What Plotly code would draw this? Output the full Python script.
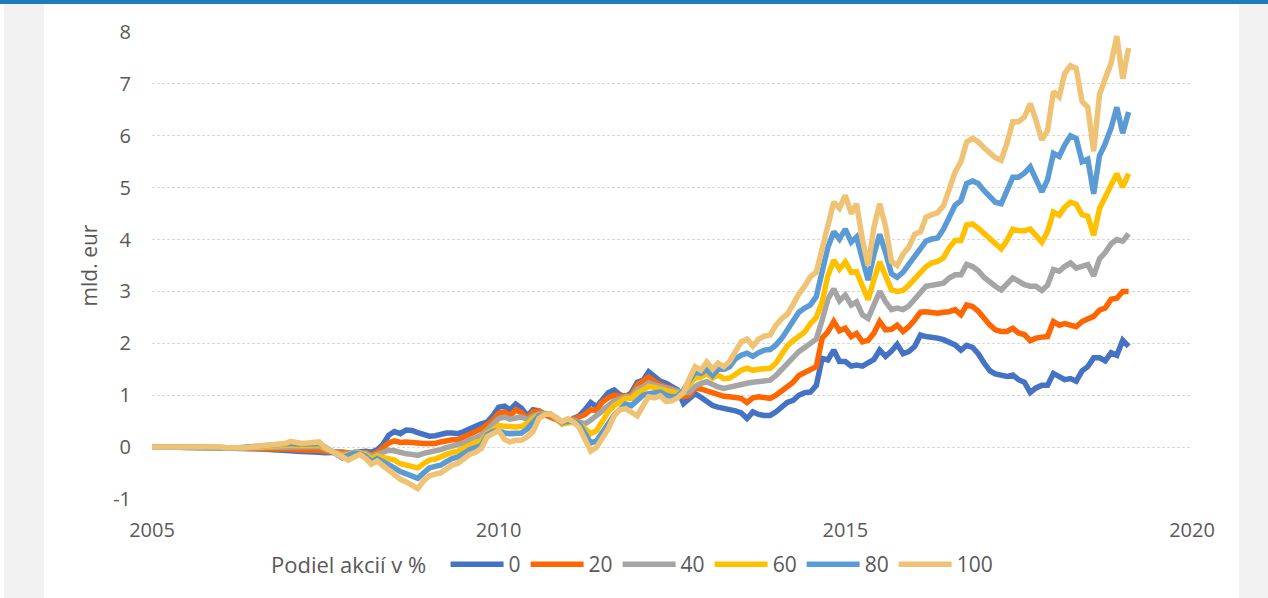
import pandas as pd
import plotly.graph_objects as go

months = pd.date_range("2005-01-01", periods=170, freq="MS")

series_names = ["0", "20", "40", "60", "80", "100"]
series_colors = ["#4472C4", "#FF6600", "#A5A5A5", "#FFC000", "#5B9BD5", "#F0C274"]

s0 = [
    0, 0, 0, -0.01, 0, 0, 0.01, 0, -0.01, -0.01, 0, 0,
    -0.01, -0.01, -0.02, -0.02, -0.02, -0.03, -0.03, -0.03, -0.04, -0.05, -0.05, -0.06,
    -0.07, -0.08, -0.08, -0.1, -0.09, -0.1, -0.11, -0.1, -0.11, -0.1, -0.12, -0.1,
    -0.1, -0.08, -0.1, -0.05, 0.05, 0.23, 0.3, 0.26, 0.33, 0.32, 0.28, 0.25,
    0.21, 0.22, 0.25, 0.27, 0.27, 0.26, 0.3, 0.34, 0.4, 0.45, 0.48, 0.6,
    0.77, 0.79, 0.72, 0.83, 0.75, 0.6, 0.72, 0.7, 0.63, 0.6, 0.56, 0.48,
    0.47, 0.56, 0.6, 0.72, 0.86, 0.78, 0.93, 1.05, 1.1, 1.01, 0.97, 1.05,
    1.25, 1.29, 1.45, 1.34, 1.27, 1.23, 1.18, 1.1, 0.84, 0.93, 1.03, 0.96,
    0.87, 0.8, 0.77, 0.75, 0.73, 0.7, 0.66, 0.55, 0.68, 0.63, 0.61, 0.61,
    0.68, 0.78, 0.86, 0.9, 1.0, 1.05, 1.06, 1.19, 1.71, 1.68, 1.87, 1.65,
    1.65, 1.56, 1.58, 1.56, 1.64, 1.69, 1.87, 1.75, 1.85, 1.98, 1.8, 1.84,
    1.94, 2.16, 2.13, 2.12, 2.1, 2.07, 2.01, 1.97, 1.87, 1.96, 1.92, 1.8,
    1.62, 1.47, 1.41, 1.39, 1.36, 1.39, 1.3, 1.25, 1.05, 1.14, 1.19, 1.19,
    1.42, 1.36, 1.3, 1.32, 1.27, 1.47, 1.55, 1.72, 1.72, 1.66, 1.82, 1.77,
    2.06, 1.94,
]

s20 = [
    0, 0, 0, 0, 0.01, 0.01, 0.01, 0, 0, 0, 0, 0,
    -0.01, -0.01, -0.02, -0.02, -0.02, -0.02, -0.02, -0.02, -0.02, -0.03, -0.03, -0.03,
    -0.04, -0.05, -0.05, -0.06, -0.05, -0.06, -0.08, -0.08, -0.1, -0.1, -0.11, -0.1,
    -0.11, -0.11, -0.15, -0.1, -0.02, 0.08, 0.12, 0.09, 0.1, 0.1, 0.08, 0.07,
    0.06, 0.07, 0.1, 0.13, 0.14, 0.14, 0.19, 0.24, 0.3, 0.35, 0.43, 0.52,
    0.65, 0.68, 0.6, 0.72, 0.66, 0.56, 0.68, 0.7, 0.62, 0.58, 0.53, 0.47,
    0.5, 0.55, 0.58, 0.63, 0.72, 0.71, 0.87, 0.95, 1.0, 0.98, 0.98, 1.0,
    1.2, 1.28, 1.35, 1.27, 1.2, 1.16, 1.13, 1.07, 0.97, 1.0, 1.14, 1.12,
    1.08, 1.05, 1.0, 0.98, 0.97, 0.96, 0.94, 0.86, 0.95, 0.97, 0.96, 0.94,
    1.0, 1.08, 1.15, 1.25, 1.38, 1.43, 1.48, 1.55, 2.1, 2.22, 2.42, 2.24,
    2.29, 2.13, 2.19, 2.03, 2.06, 2.2, 2.42, 2.26, 2.27, 2.35, 2.23, 2.32,
    2.45, 2.6, 2.61, 2.6, 2.58, 2.6, 2.61, 2.65, 2.55, 2.74, 2.71, 2.62,
    2.48, 2.35, 2.26, 2.23, 2.23, 2.29, 2.2, 2.17, 2.05, 2.1, 2.12, 2.13,
    2.42, 2.35, 2.38, 2.35, 2.32, 2.42, 2.48, 2.52, 2.64, 2.68, 2.85, 2.87,
    3.0, 3.0,
]

s40 = [
    0, 0, 0, 0, 0, 0.01, 0.01, 0, 0, 0, 0, 0,
    0, -0.01, -0.02, -0.01, -0.01, -0.01, -0.01, -0.01, 0, 0, 0, 0.01,
    0.01, 0, 0, 0, 0, 0.01, -0.04, -0.07, -0.1, -0.14, -0.12, -0.1,
    -0.11, -0.12, -0.18, -0.13, -0.1, -0.06, -0.07, -0.11, -0.13, -0.14, -0.16, -0.12,
    -0.1, -0.08, -0.05, -0.01, 0.02, 0.03, 0.08, 0.13, 0.19, 0.23, 0.33, 0.43,
    0.55, 0.58, 0.54, 0.56, 0.58, 0.53, 0.6, 0.64, 0.65, 0.64, 0.55, 0.47,
    0.5, 0.52, 0.48, 0.45, 0.52, 0.6, 0.7, 0.8, 0.89, 0.93, 0.97, 0.97,
    1.12, 1.16, 1.24, 1.2, 1.17, 1.16, 1.12, 1.08, 1.04, 1.06, 1.17, 1.23,
    1.26, 1.2, 1.16, 1.13, 1.16, 1.18, 1.2, 1.23, 1.25, 1.27, 1.29, 1.29,
    1.38, 1.5, 1.62, 1.72, 1.84, 1.92, 2.0, 2.08, 2.45, 2.85, 3.05, 2.82,
    2.93, 2.74, 2.8, 2.55, 2.48, 2.74, 3.0, 2.8, 2.65, 2.68, 2.65, 2.72,
    2.85, 3.0, 3.1, 3.12, 3.14, 3.16, 3.26, 3.32, 3.32, 3.52, 3.48, 3.4,
    3.27, 3.17, 3.1, 3.03, 3.13, 3.26, 3.2, 3.13, 3.1, 3.1, 3.02, 3.12,
    3.42, 3.39, 3.48, 3.55, 3.45, 3.48, 3.52, 3.3, 3.63, 3.75, 3.92, 4.0,
    3.97, 4.11,
]

s60 = [
    0, 0, 0, 0, 0.01, 0.01, 0.01, 0, 0.01, 0.01, 0.01, 0.01,
    0, -0.01, -0.02, -0.01, -0.01, -0.01, 0, 0, 0.01, 0.02, 0.02, 0.03,
    0.04, 0.03, 0.02, 0.03, 0.03, 0.04, -0.02, -0.07, -0.12, -0.18, -0.14, -0.11,
    -0.12, -0.15, -0.23, -0.17, -0.2, -0.22, -0.25, -0.32, -0.35, -0.36, -0.4, -0.32,
    -0.25, -0.23, -0.2, -0.14, -0.1, -0.08, -0.02, 0.04, 0.09, 0.12, 0.27, 0.33,
    0.42, 0.4, 0.39, 0.39, 0.4, 0.45, 0.55, 0.62, 0.65, 0.64, 0.55, 0.44,
    0.47, 0.48, 0.45, 0.34, 0.26, 0.32, 0.5, 0.68, 0.8, 0.86, 0.94, 0.94,
    1.04, 1.1, 1.17, 1.15, 1.12, 1.1, 1.06, 1.03, 1.08, 1.2, 1.33, 1.35,
    1.42, 1.33, 1.39, 1.32, 1.33, 1.4, 1.48, 1.52, 1.48, 1.5, 1.52, 1.52,
    1.62, 1.8, 1.95, 2.05, 2.15, 2.22, 2.38, 2.5, 2.8, 3.3, 3.6, 3.43,
    3.57, 3.37, 3.38, 3.1, 2.84, 3.23, 3.57, 3.3, 3.03, 3.0, 3.02, 3.12,
    3.25, 3.38, 3.48, 3.55, 3.58, 3.65, 3.84, 3.98, 3.98, 4.28, 4.3, 4.22,
    4.12, 4.0, 3.9, 3.82, 3.98, 4.2, 4.17, 4.17, 4.2, 4.08, 3.95, 4.15,
    4.53, 4.47, 4.62, 4.72, 4.68, 4.48, 4.45, 4.08, 4.6, 4.82, 5.05, 5.27,
    5.01, 5.27,
]

s80 = [
    0, 0, 0, 0, 0.01, 0.01, 0.01, 0.01, 0.01, 0.01, 0.01, 0.01,
    0, -0.01, -0.02, -0.01, -0.01, 0, 0, 0.01, 0.02, 0.03, 0.04, 0.05,
    0.07, 0.06, 0.05, 0.06, 0.06, 0.07, 0, -0.07, -0.14, -0.21, -0.16, -0.12,
    -0.13, -0.18, -0.28, -0.22, -0.28, -0.33, -0.4, -0.47, -0.52, -0.55, -0.6, -0.5,
    -0.4, -0.37, -0.35, -0.28, -0.22, -0.19, -0.12, -0.05, -0.01, 0.03, 0.24, 0.3,
    0.32, 0.27, 0.26, 0.26, 0.27, 0.35, 0.48, 0.6, 0.64, 0.63, 0.56, 0.47,
    0.5, 0.5, 0.45, 0.24, 0.08, 0.12, 0.3, 0.45, 0.62, 0.74, 0.83, 0.8,
    0.9, 1.0, 1.03, 1.04, 1.06, 1.0, 0.97, 0.98, 1.1, 1.28, 1.45, 1.42,
    1.5, 1.38, 1.5, 1.5, 1.55, 1.7, 1.77, 1.81, 1.75, 1.82, 1.87, 1.88,
    1.97, 2.1, 2.25, 2.45, 2.6, 2.68, 2.74, 2.9, 3.35, 3.85, 4.15, 4.01,
    4.2, 3.95, 4.05, 3.59, 3.22, 3.72, 4.1, 3.75, 3.34, 3.27, 3.37, 3.52,
    3.68, 3.85, 3.97, 4.01, 4.03, 4.2, 4.4, 4.66, 4.75, 5.08, 5.13, 5.08,
    4.94, 4.81, 4.72, 4.69, 4.95, 5.2, 5.2, 5.28, 5.4, 5.15, 4.92, 5.15,
    5.66, 5.6, 5.82, 6.0, 5.95, 5.5, 5.55, 4.88, 5.62, 5.85, 6.15, 6.55,
    6.05, 6.46,
]

s100 = [
    0, 0, 0.01, 0, 0.01, 0.02, 0.02, 0.01, 0.02, 0.02, 0.02, 0.01,
    0, -0.01, -0.02, -0.01, -0.01, 0, 0.01, 0.02, 0.03, 0.04, 0.06, 0.07,
    0.11, 0.09, 0.07, 0.08, 0.08, 0.1, -0.01, -0.08, -0.12, -0.19, -0.25, -0.2,
    -0.14, -0.22, -0.33, -0.27, -0.36, -0.45, -0.54, -0.62, -0.67, -0.72, -0.8, -0.65,
    -0.55, -0.52, -0.5, -0.42, -0.35, -0.31, -0.22, -0.14, -0.1, -0.03, 0.2, 0.26,
    0.32, 0.15, 0.1, 0.13, 0.13, 0.2, 0.3, 0.55, 0.63, 0.64, 0.55, 0.49,
    0.55, 0.48, 0.38, 0.12, -0.08, 0.0, 0.18, 0.35, 0.6, 0.72, 0.74, 0.66,
    0.6, 0.8, 0.97, 0.95, 0.99, 0.88, 0.89, 0.95, 1.05, 1.32, 1.55, 1.48,
    1.64, 1.5, 1.62, 1.55, 1.65, 1.84, 2.03, 2.08, 1.95, 2.08, 2.14, 2.16,
    2.35, 2.48, 2.56, 2.75, 2.95, 3.1, 3.28, 3.37, 3.85, 4.35, 4.72, 4.6,
    4.85, 4.5, 4.69, 4.0, 3.5, 4.24, 4.69, 4.25, 3.58, 3.5, 3.72, 3.85,
    4.1, 4.15, 4.43, 4.48, 4.52, 4.65, 5.0, 5.3, 5.5, 5.88, 5.95, 5.88,
    5.77, 5.66, 5.58, 5.53, 5.85, 6.27, 6.27, 6.36, 6.62, 6.3, 5.92, 6.1,
    6.85, 6.75, 7.2, 7.35, 7.3, 6.66, 6.55, 5.7, 6.8, 7.1, 7.4, 7.92,
    7.1, 7.69,
]

x_tick_years = ["2005", "2010", "2015", "2020"]
y_ticks = [-1, 0, 1, 2, 3, 4, 5, 6, 7, 8]
y_tick_text = ["-1", "0", "1", "2", "3", "4", "5", "6", "7", "8"]
legend_title = "Podiel akcií v %"
y_title = "mld. eur"

all_series = [s0, s20, s40, s60, s80, s100]

W, H = 1268, 598
ML, MR, MT, MB = 152, 76, 32, 99
PW, PH = W - ML - MR, H - MT - MB


def px_x(px):
    return (px - ML) / PW


def px_y(py):
    return (H - MB - py) / PH


fig = go.Figure()
for name, color, vals in zip(series_names, series_colors, all_series):
    fig.add_trace(go.Scatter(
        x=months, y=vals, name=name, mode="lines",
        line=dict(color=color, width=5.5),
        hoverinfo="skip",
    ))

font_family = "Open Sans, Liberation Sans, sans-serif"
text_color = "#595959"

fig.update_layout(
    width=W, height=H,
    margin=dict(l=ML, r=MR, t=MT, b=MB, pad=0),
    paper_bgcolor="#F2F2F2",
    plot_bgcolor="white",
    font=dict(family=font_family, size=20, color=text_color),
    showlegend=True,
    legend=dict(
        orientation="h",
        x=px_x(269), xanchor="left",
        y=px_y(544), yanchor="top",
        bgcolor="rgba(0,0,0,0)",
        font=dict(size=21, color=text_color),
        title=dict(text=legend_title + "\u00a0\u00a0",
                   font=dict(size=22, color=text_color), side="left"),
        itemwidth=53,
        tracegroupgap=0,
    ),
    xaxis=dict(
        type="date",
        range=["2005-01-01", "2020-01-01"],
        tickvals=[pd.Timestamp(y + "-01-01") for y in x_tick_years],
        ticktext=x_tick_years,
        showgrid=False, zeroline=False, showline=False,
        ticks="", ticklabelstandoff=17,
        tickfont=dict(size=20, color=text_color),
    ),
    yaxis=dict(
        range=[-1, 8],
        tickvals=y_ticks,
        ticktext=y_tick_text,
        showgrid=True, gridcolor="#D9D9D9", gridwidth=1, griddash="3px,2px",
        zeroline=False, showline=False,
        ticks="", ticklabelstandoff=20,
        tickfont=dict(size=20, color=text_color),
        title=dict(text=y_title, font=dict(size=21, color=text_color), standoff=9),
    ),
    shapes=[
        dict(type="rect", xref="paper", yref="paper", layer="below",
             x0=px_x(44), x1=px_x(1239), y0=px_y(598), y1=px_y(4),
             fillcolor="white", line=dict(width=0)),
        dict(type="rect", xref="paper", yref="paper", layer="below",
             x0=px_x(0), x1=px_x(4), y0=px_y(598), y1=px_y(4),
             fillcolor="white", line=dict(width=0)),
        dict(type="rect", xref="paper", yref="paper", layer="below",
             x0=px_x(0), x1=px_x(W), y0=px_y(4), y1=px_y(0),
             fillcolor="#1F7BC0", line=dict(width=0)),
    ],
)

fig.write_html(
    "out.html",
    config={"displayModeBar": False},
    post_script="document.body.style.margin='0';document.body.style.overflow='hidden';",
)
